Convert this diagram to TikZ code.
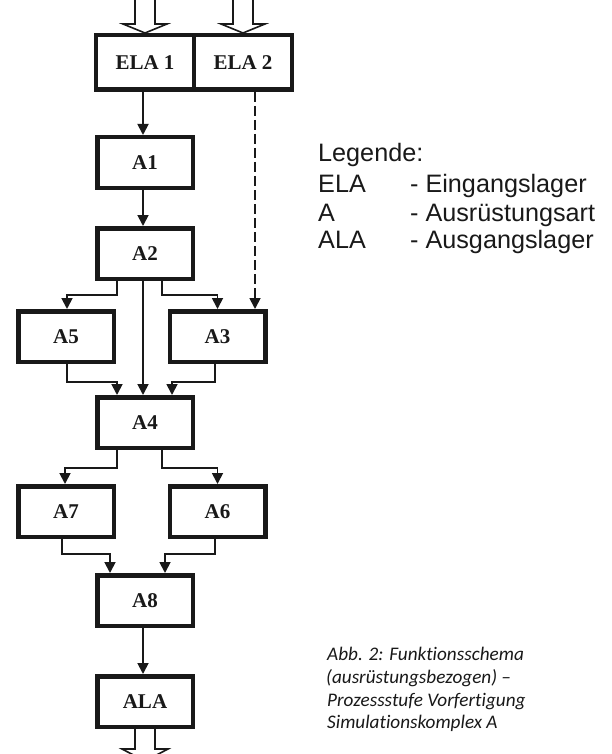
\documentclass[tikz,border=0pt]{standalone}
\usepackage{fontspec}
\setmainfont{Liberation Serif}
\newfontfamily\legfont{Liberation Sans}
\newfontfamily\capfont[Ligatures=NoCommon]{Carlito}
\usetikzlibrary{arrows.meta,calc}
\definecolor{ink}{RGB}{25,25,25}
\tikzset{
  box/.style={draw=ink, line width=4.5pt, fill=white, minimum width=95.5pt, minimum height=50.5pt,
    inner sep=0pt, font=\fontsize{21}{23}\selectfont\bfseries, text=ink},
  elabox/.style={box, minimum width=98pt, minimum height=54.5pt},
  conn/.style={draw=ink, line width=1.8pt, -{Triangle[length=11pt,width=11pt]}},
  dconn/.style={conn, dash pattern=on 10pt off 4pt},
  hollow/.style={draw=ink, line width=1.6pt, fill=white, line join=miter},
  legtext/.style={anchor=base west, inner sep=0pt, font=\legfont\fontsize{25.2}{28}\selectfont, text=ink},
  captext/.style={anchor=base west, inner sep=0pt, font=\capfont\itshape\fontsize{19.2}{23}\selectfont, text=ink}
}
\begin{document}
\begin{tikzpicture}[x=1pt,y=-1pt]
\useasboundingbox (0,0) rectangle (612,754);
\fill[white] (0,0) rectangle (612,754);
\begin{scope}
\clip (0,0) rectangle (612,754);
% boxes
\node[elabox] (ELA1) at (145,62.5) {ELA 1};
\node[elabox] (ELA2) at (243,62.5) {ELA 2};
\node[box] (A1) at (145,162.5) {A1};
\node[box] (A2) at (145,253.5) {A2};
\node[box] (A5) at (66,336.5) {A5};
\node[box] (A3) at (217.5,336.5) {A3};
\node[box] (A4) at (145,422.5) {A4};
\node[box] (A7) at (66,511.5) {A7};
\node[box] (A6) at (217.5,511.5) {A6};
\node[box] (A8) at (145,600.5) {A8};
\node[box] (ALA) at (145,701.5) {ALA};
% input hollow arrows
\draw[hollow] (ELA1.north) -- ++(-22,-9) -- ++(12,0) -- ++(0,-30) -- ++(20,0) -- ++(0,30) -- ++(12,0) -- cycle;
\draw[hollow] (ELA2.north) -- ++(-22,-9) -- ++(12,0) -- ++(0,-30) -- ++(20,0) -- ++(0,30) -- ++(12,0) -- cycle;
% output hollow arrow
\draw[hollow] (ALA.south) ++(-10,0) -- ++(0,20) -- ++(-13,0) -- ++(23,12) -- ++(23,-12) -- ++(-13,0) -- ++(0,-20);
% connectors
\draw[conn] ([xshift=-2pt]ELA1.south) -- ([xshift=-2pt]A1.north);
\draw[conn] ([xshift=-2pt]A1.south) -- ([xshift=-2pt]A2.north);
\draw[dconn] ([xshift=12pt]ELA2.south) -- ([xshift=12pt]ELA2.south |- A3.north);
\draw[conn] ([xshift=-28pt]A2.south) -- ++(0,14) -| ([xshift=1pt]A5.north);
\draw[conn] ([xshift=17pt]A2.south) -- ++(0,14) -| (A3.north);
\draw[conn] ([xshift=-2pt]A2.south) -- ([xshift=-2pt]A4.north);
\draw[conn] ([xshift=1pt]A5.south) -- ++(0,18) -| ([xshift=-28pt]A4.north);
\draw[conn] ([xshift=-2.5pt]A3.south) -- ++(0,18) -| ([xshift=27pt]A4.north);
\draw[conn] ([xshift=-28pt]A4.south) -- ++(0,18) -| ([xshift=-1pt]A7.north);
\draw[conn] ([xshift=17pt]A4.south) -- ++(0,18) -| (A6.north);
\draw[conn] ([xshift=-4pt]A7.south) -- ++(0,15) -| ([xshift=-35pt]A8.north);
\draw[conn] ([xshift=-2.5pt]A6.south) -- ++(0,15) -| ([xshift=20pt]A8.north);
\draw[conn] ([xshift=-2pt]A8.south) -- ([xshift=-2pt]ALA.north);
\end{scope}
% legend
\node[legtext] (lg) at (318,162) {Legende:};
\node[legtext] (lg1) at (318,192) {ELA};
\node[legtext] (lg2) at (318,221) {A};
\node[legtext] (lg3) at (318,248) {ALA};
\node[legtext] (ld1) at (410,192) {- Eingangslager};
\node[legtext] (ld2) at (410,221) {- Ausrüstungsart};
\node[legtext] (ld3) at (410,248) {- Ausgangslager};
% caption
\node[captext] (c1) at (327,660) {Abb. 2: Funktionsschema};
\node[captext] (c2) at (326,683) {(ausrüstungsbezogen) –};
\node[captext] (c3) at (327,706) {Prozessstufe Vorfertigung};
\node[captext] (c4) at (327,728) {Simulationskomplex A};
\end{tikzpicture}
\end{document}
